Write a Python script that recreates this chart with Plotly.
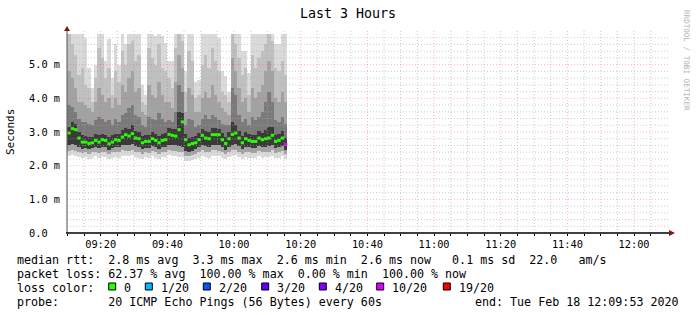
import plotly.graph_objects as go
import pandas as pd

# ---------------- data ----------------
START = "2020-02-18 09:10:00"
N = 66
times = pd.date_range(START, periods=N, freq="1min")

median = [2.97, 3.10, 3.07, 2.82, 2.70, 2.70, 2.66, 2.68, 2.75, 2.70,
          2.77, 2.75, 2.65, 2.70, 2.77, 2.75, 2.85, 2.92, 2.88, 2.95,
          2.82, 2.80, 2.68, 2.72, 2.72, 2.80, 2.75, 2.68, 2.75, 2.77,
          2.93, 2.90, 2.88, 3.07, 3.30, 2.77, 2.62, 2.66, 2.68, 2.77,
          2.90, 2.82, 2.80, 2.92, 2.92, 2.92, 2.77, 2.66, 2.80, 2.93,
          2.97, 2.82, 2.68, 2.80, 2.75, 2.72, 2.72, 2.82, 2.77, 2.80,
          2.82, 2.90, 2.72, 2.75, 2.82, 2.63]

loss = [0] * 65 + [10]

smoke_max = [5.92, 5.92, 5.92, 5.92, 5.92, 5.80, 4.90, 4.30, 5.00, 5.92,
             5.92, 5.10, 5.75, 4.60, 5.60, 5.00, 5.92, 5.60, 5.92, 5.92,
             5.92, 5.92, 4.40, 4.10, 5.92, 5.92, 5.85, 5.92, 5.85, 5.65,
             5.10, 5.10, 5.92, 5.92, 5.92, 4.80, 5.92, 5.92, 4.50, 4.55,
             5.92, 5.92, 5.92, 5.92, 5.92, 5.80, 4.80, 4.65, 4.20, 5.92,
             5.92, 5.92, 5.40, 5.40, 4.75, 5.92, 5.92, 5.92, 5.92, 5.92,
             5.92, 5.92, 5.60, 5.60, 5.92, 5.92]

smoke_up2 = [5.92, 5.60, 5.30, 4.70, 4.90, 4.40, 4.30, 3.90, 4.60, 5.50,
             5.20, 4.60, 4.90, 4.10, 4.80, 4.50, 5.40, 5.00, 5.60, 5.70,
             5.10, 5.30, 3.90, 3.80, 5.50, 5.20, 5.00, 5.60, 4.90, 4.80,
             4.60, 4.30, 5.50, 5.92, 5.70, 4.20, 5.40, 5.10, 4.00, 4.10,
             5.00, 5.30, 4.90, 5.50, 5.10, 4.80, 4.20, 4.10, 3.90, 5.92,
             5.60, 5.20, 4.70, 4.90, 4.10, 5.30, 4.90, 5.20, 5.40, 5.60,
             5.92, 5.70, 4.90, 4.80, 5.10, 4.70]

smoke_up3 = [4.80, 4.60, 4.30, 3.90, 3.90, 3.80, 3.70, 3.60, 3.90, 4.30,
             4.10, 3.90, 4.00, 3.70, 4.00, 3.80, 4.40, 4.20, 4.60, 4.80,
             4.20, 4.30, 3.60, 3.50, 4.40, 4.10, 4.00, 4.50, 4.10, 3.90,
             3.90, 3.70, 4.50, 5.30, 4.90, 3.60, 4.30, 4.10, 3.60, 3.60,
             4.00, 4.20, 4.00, 4.40, 4.10, 3.90, 3.70, 3.60, 3.50, 5.20,
             4.80, 4.30, 3.90, 4.00, 3.60, 4.30, 4.00, 4.20, 4.40, 4.80,
             5.10, 4.80, 4.00, 3.90, 4.20, 3.90]

smoke_up4 = [3.80, 3.75, 3.60, 3.40, 3.30, 3.30, 3.25, 3.20, 3.35, 3.45,
             3.40, 3.30, 3.35, 3.20, 3.40, 3.30, 3.50, 3.55, 3.70, 3.80,
             3.50, 3.45, 3.20, 3.15, 3.45, 3.40, 3.35, 3.55, 3.40, 3.30,
             3.35, 3.30, 3.60, 4.40, 4.20, 3.20, 3.40, 3.35, 3.15, 3.20,
             3.40, 3.50, 3.40, 3.50, 3.45, 3.35, 3.25, 3.20, 3.20, 4.30,
             4.10, 3.50, 3.30, 3.40, 3.20, 3.45, 3.35, 3.45, 3.60, 3.90,
             4.20, 3.90, 3.35, 3.30, 3.45, 3.25]

core_top = [3.15, 3.30, 3.25, 3.00, 2.90, 2.88, 2.85, 2.86, 2.93, 2.90,
            2.95, 2.92, 2.85, 2.90, 2.95, 2.95, 3.05, 3.12, 3.10, 3.20,
            3.02, 3.00, 2.88, 2.90, 2.92, 3.00, 2.95, 2.88, 2.95, 2.97,
            3.12, 3.08, 3.10, 3.60, 3.55, 2.95, 2.82, 2.86, 2.88, 2.97,
            3.10, 3.02, 3.00, 3.12, 3.12, 3.10, 2.97, 2.86, 3.00, 3.30,
            3.20, 3.02, 2.88, 3.00, 2.95, 2.92, 2.92, 3.02, 2.97, 3.05,
            3.15, 3.15, 2.92, 2.95, 3.02, 2.83]

core_bot = [2.62, 2.65, 2.62, 2.55, 2.50, 2.52, 2.50, 2.52, 2.55, 2.52,
            2.56, 2.55, 2.48, 2.52, 2.56, 2.55, 2.60, 2.62, 2.60, 2.64,
            2.58, 2.56, 2.50, 2.53, 2.52, 2.58, 2.55, 2.50, 2.55, 2.56,
            2.62, 2.60, 2.60, 2.58, 2.55, 2.45, 2.42, 2.45, 2.50, 2.55,
            2.62, 2.58, 2.56, 2.62, 2.62, 2.60, 2.55, 2.48, 2.56, 2.62,
            2.64, 2.58, 2.50, 2.56, 2.55, 2.53, 2.52, 2.58, 2.55, 2.56,
            2.58, 2.62, 2.52, 2.55, 2.58, 2.48]

smoke_lo2 = [2.45, 2.48, 2.45, 2.40, 2.38, 2.40, 2.36, 2.40, 2.42, 2.38,
             2.42, 2.40, 2.35, 2.40, 2.42, 2.40, 2.46, 2.45, 2.44, 2.48,
             2.42, 2.40, 2.36, 2.40, 2.38, 2.44, 2.40, 2.36, 2.42, 2.42,
             2.48, 2.45, 2.45, 2.42, 2.40, 2.30, 2.30, 2.33, 2.36, 2.40,
             2.46, 2.42, 2.40, 2.46, 2.46, 2.44, 2.40, 2.36, 2.42, 2.46,
             2.48, 2.42, 2.36, 2.42, 2.40, 2.38, 2.38, 2.44, 2.40, 2.42,
             2.42, 2.46, 2.38, 2.40, 2.44, 2.36]

smoke_min = [2.30, 2.32, 2.30, 2.25, 2.22, 2.25, 2.20, 2.24, 2.28, 2.22,
             2.26, 2.25, 2.20, 2.24, 2.26, 2.24, 2.30, 2.28, 2.28, 2.32,
             2.26, 2.24, 2.20, 2.25, 2.22, 2.28, 2.24, 2.20, 2.26, 2.26,
             2.32, 2.30, 2.30, 2.26, 2.25, 2.15, 2.15, 2.18, 2.20, 2.24,
             2.30, 2.26, 2.24, 2.30, 2.30, 2.28, 2.24, 2.20, 2.26, 2.30,
             2.32, 2.26, 2.20, 2.26, 2.24, 2.22, 2.22, 2.28, 2.24, 2.26,
             2.26, 2.30, 2.22, 2.24, 2.28, 2.20]

y_tick_vals = [0, 1, 2, 3, 4, 5]
y_tick_text = ["0.0\u00a0\u00a0", "1.0 m", "2.0 m", "3.0 m", "4.0 m", "5.0 m"]

loss_levels = [0, 1, 2, 3, 4, 10, 19]
loss_labels = ["0", "1/20", "2/20", "3/20", "4/20", "10/20", "19/20"]
loss_colors = ["#26ff00", "#00b8ff", "#0059ff", "#5e00ff", "#7e00ff", "#dd00ff", "#ff0000"]

title_text = "Last 3 Hours"
legend_line1 = "median rtt:  2.8 ms avg  3.3 ms max  2.6 ms min  2.6 ms now   0.1 ms sd  22.0   am/s"
legend_line2 = "packet loss: 62.37 % avg  100.00 % max  0.00 % min  100.00 % now"
legend_line3 = "loss color:"
legend_line4 = "probe:       20 ICMP Echo Pings (56 Bytes) every 60s"
end_text = "end: Tue Feb 18 12:09:53 2020"
watermark = "RRDTOOL / TOBI OETIKER"

X_RANGE = ["2020-02-18 09:09:53", "2020-02-18 12:09:53"]
Y_RANGE = [0, 6.0]

# ---------------- layout geometry ----------------
W, H = 697, 315
L, R, T, B = 67, 30, 31, 82
PW, PH = W - L - R, H - T - B
MONO = "DejaVu Sans Mono"


def px(xpix):
    return (xpix - L) / PW


def py(ypix):
    return (H - B - ypix) / PH


def nb(s):
    return s.replace(" ", "\u00a0")


fig = go.Figure()

# ---------------- smoke ----------------
bands = [
    (smoke_min, smoke_max, "#dadada"),
    (smoke_lo2, smoke_up2, "#c0c0c0"),
    (smoke_lo2, smoke_up3, "#a2a2a2"),
    (core_bot, smoke_up4, "#7a7a7a"),
    (core_bot, core_top, "#3a3a3a"),
]
for lo, hi, col in bands:
    fig.add_trace(go.Bar(
        x=times, base=lo, y=[h - l for h, l in zip(hi, lo)],
        width=60000, offset=0, marker=dict(color=col, line=dict(width=0)),
        hoverinfo="skip"))

# ---------------- median, coloured by loss ----------------
for lvl, col in zip(loss_levels, loss_colors):
    xs, ys = [], []
    for t, m, l in zip(times, median, loss):
        if l == lvl:
            xs += [t.strftime("%Y-%m-%d %H:%M:%S"),
                   (t + pd.Timedelta(minutes=1)).strftime("%Y-%m-%d %H:%M:%S"), None]
            ys += [m, m, None]
    if xs:
        fig.add_trace(go.Scatter(x=xs, y=ys, mode="lines",
                                 line=dict(color=col, width=3), connectgaps=False,
                                 hoverinfo="skip"))

# ---------------- grid drawn above the smoke (rrdtool style) ----------------
shapes = []
minor_col = "rgba(170,170,170,0.6)"
major_col = "rgba(255,60,60,0.38)"
dash = "1px,2px"
t1 = pd.Timestamp(X_RANGE[1])
gt = pd.Timestamp("2020-02-18 09:10:00")
while gt <= t1:
    major = gt.minute % 20 == 0
    shapes.append(dict(type="line", xref="x", yref="paper", x0=gt, x1=gt, y0=0, y1=1,
                       line=dict(color=major_col if major else minor_col, width=1, dash=dash),
                       layer="above"))
    gt += pd.Timedelta(minutes=5)
for i in range(1, 30):
    v = i * 0.2
    major = i % 5 == 0
    shapes.append(dict(type="line", xref="paper", yref="y", x0=0, x1=px(669), y0=v, y1=v,
                       line=dict(color=major_col if major else minor_col, width=1, dash=dash),
                       layer="above"))

# axes lines and arrows
arrow_col = "#7a1a1a"
shapes.append(dict(type="line", xref="paper", yref="paper", x0=0, x1=0, y0=0, y1=py(28),
                   line=dict(color="#555555", width=1), layer="above"))
shapes.append(dict(type="line", xref="paper", yref="paper", x0=px(66), x1=px(670), y0=0, y1=0,
                   line=dict(color="black", width=1.6), layer="above"))
shapes.append(dict(type="path", xref="paper", yref="paper",
                   path=f"M {px(64)} {py(31)} L {px(70)} {py(31)} L {px(67)} {py(26)} Z",
                   fillcolor=arrow_col, line=dict(width=0), layer="above"))
shapes.append(dict(type="path", xref="paper", yref="paper",
                   path=f"M {px(669)} {py(230)} L {px(669)} {py(236)} L {px(675)} {py(233)} Z",
                   fillcolor=arrow_col, line=dict(width=0), layer="above"))

# loss colour legend squares
sq_left = [108.7, 145.3, 203.3, 261.7, 319.3, 376.7, 443.3]
for xl, col in zip(sq_left, loss_colors):
    shapes.append(dict(type="rect", xref="paper", yref="paper",
                       x0=px(xl), x1=px(xl + 7), y0=py(290), y1=py(283),
                       fillcolor=col, line=dict(color="black", width=1)))

# ---------------- text ----------------
ann = []
LEG = 11.67


def txt(s, xp, yp, size, xanchor="left", color="black", angle=0, yanchor="middle"):
    ann.append(dict(text=nb(s), x=px(xp), y=py(yp), xref="paper", yref="paper",
                    xanchor=xanchor, yanchor=yanchor, showarrow=False, borderpad=0,
                    textangle=angle, font=dict(family=MONO, size=size, color=color)))


txt(title_text, 348, 14, 13.3, xanchor="center")
txt("Seconds", 10, 132, 11, xanchor="center", angle=-90)
txt(watermark, 687, 60, 7.6, xanchor="center", color="#b4b4b4", angle=90)
txt(legend_line1, 16, 259.5, LEG)
txt(legend_line2, 16, 273.5, LEG)
txt(legend_line3, 16, 287.5, LEG)
for xl, lab in zip(sq_left, loss_labels):
    txt(lab, xl + 14.5, 287.5, LEG)
txt(legend_line4, 16, 301.5, LEG)
txt(end_text, 680, 301.5, LEG, xanchor="right")

fig.update_layout(
    width=W, height=H,
    margin=dict(l=L, r=R, t=T, b=B, pad=0),
    paper_bgcolor="white", plot_bgcolor="white",
    showlegend=False, barmode="overlay", bargap=0,
    shapes=shapes, annotations=ann,
    font=dict(family=MONO, color="black"),
    xaxis=dict(type="date", range=X_RANGE, tickformat="%H:%M",
               tick0="2020-02-18 09:20:00", dtick=1200000,
               showgrid=False, zeroline=False, showline=False,
               ticks="outside", ticklen=2, tickcolor="black",
               minor=dict(dtick=300000, ticks="outside", ticklen=2, tickcolor="black", showgrid=False),
               tickfont=dict(family=MONO, size=10.3, color="black")),
    yaxis=dict(range=Y_RANGE, tickmode="array", tickvals=y_tick_vals, ticktext=y_tick_text,
               showgrid=False, zeroline=False, showline=False, ticks="",
               ticklabelstandoff=6,
               tickfont=dict(family=MONO, size=10.3, color="black")),
)

fig.write_html("out.html")
